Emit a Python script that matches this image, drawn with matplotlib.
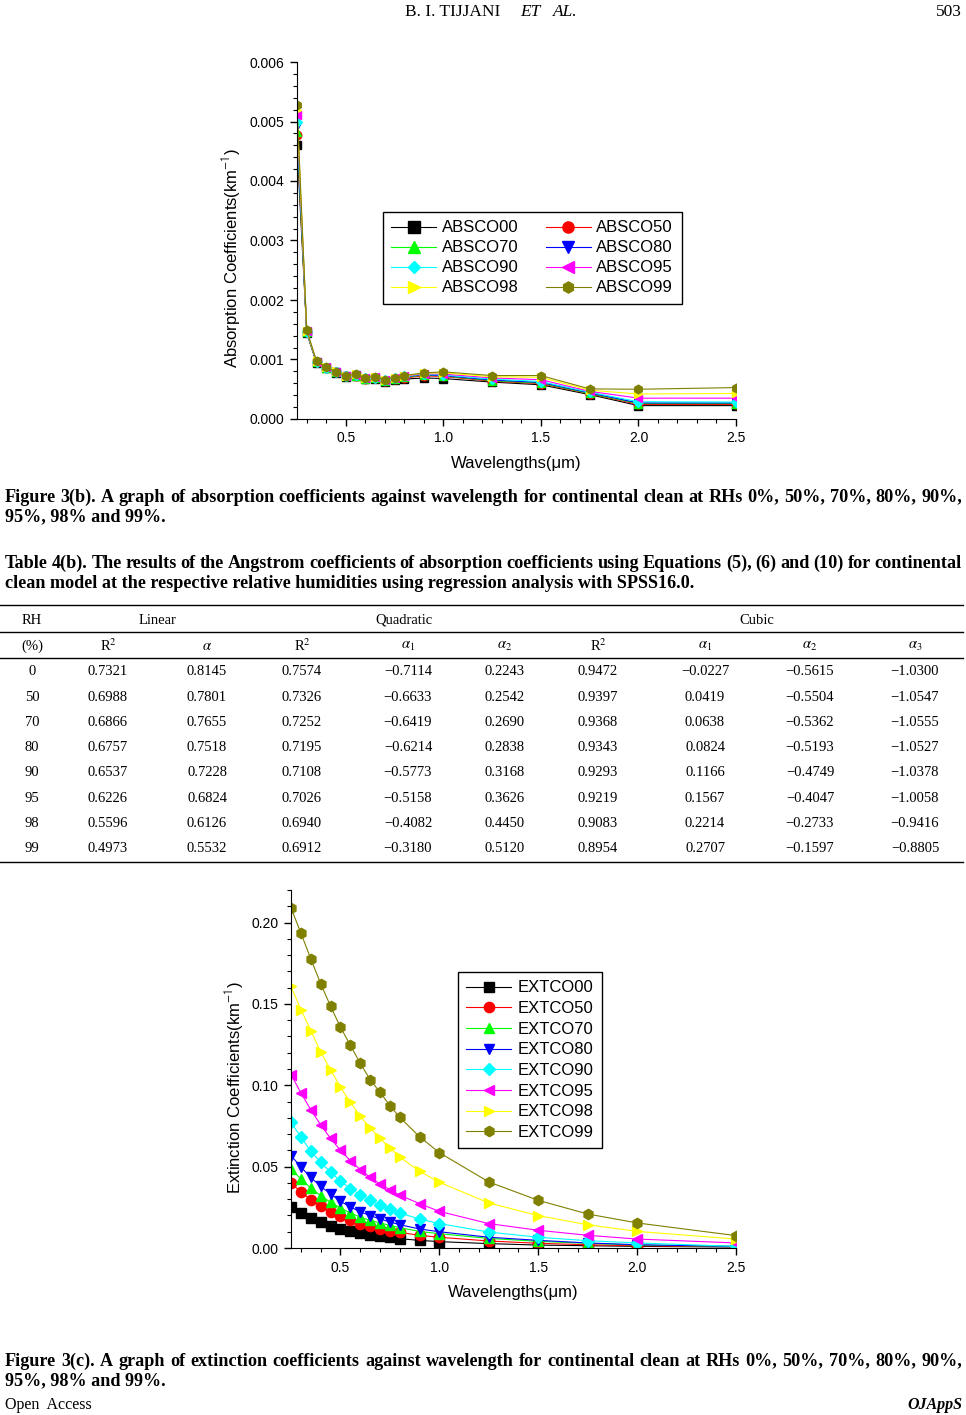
import numpy as np
import matplotlib
matplotlib.use('Agg')
import matplotlib.pyplot as plt
from matplotlib.lines import Line2D
from matplotlib.ticker import MultipleLocator, FormatStrFormatter

plt.rcParams['font.family'] = ['Liberation Sans', 'DejaVu Sans']
plt.rcParams['mathtext.fontset'] = 'stix'

W, H = 966, 1415

wavelengths = [0.25, 0.30, 0.35, 0.40, 0.45, 0.50, 0.55, 0.60, 0.65, 0.70,
               0.75, 0.80, 0.90, 1.00, 1.25, 1.50, 1.75, 2.00, 2.50]

# absorption coefficients, in 1e-3 km-1
absco00 = [4.60, 1.45, 0.940, 0.850, 0.780, 0.710, 0.720, 0.670, 0.680, 0.630, 0.650, 0.670, 0.690, 0.680, 0.620, 0.575, 0.410, 0.225, 0.225]
absco50 = [4.78, 1.46, 0.950, 0.860, 0.785, 0.715, 0.730, 0.675, 0.685, 0.640, 0.665, 0.690, 0.725, 0.715, 0.635, 0.595, 0.425, 0.245, 0.245]
absco70 = [4.83, 1.46, 0.950, 0.860, 0.790, 0.720, 0.730, 0.680, 0.690, 0.645, 0.675, 0.700, 0.740, 0.725, 0.645, 0.605, 0.430, 0.260, 0.260]
absco80 = [4.92, 1.47, 0.955, 0.865, 0.790, 0.720, 0.735, 0.680, 0.690, 0.645, 0.680, 0.710, 0.745, 0.730, 0.655, 0.615, 0.440, 0.270, 0.270]
absco90 = [5.00, 1.47, 0.960, 0.865, 0.795, 0.725, 0.740, 0.685, 0.695, 0.650, 0.685, 0.715, 0.755, 0.740, 0.670, 0.630, 0.450, 0.290, 0.285]
absco95 = [5.11, 1.48, 0.965, 0.870, 0.795, 0.725, 0.745, 0.690, 0.700, 0.655, 0.690, 0.720, 0.760, 0.755, 0.690, 0.660, 0.465, 0.350, 0.350]
absco98 = [5.20, 1.485, 0.970, 0.870, 0.800, 0.730, 0.750, 0.695, 0.705, 0.660, 0.695, 0.725, 0.770, 0.775, 0.710, 0.700, 0.485, 0.420, 0.430]
absco99 = [5.27, 1.49, 0.972, 0.871, 0.798, 0.730, 0.753, 0.697, 0.708, 0.663, 0.697, 0.730, 0.775, 0.792, 0.730, 0.730, 0.506, 0.500, 0.528]

# extinction coefficients, km-1
extco00 = [0.0252, 0.0215, 0.0184, 0.0158, 0.0137, 0.0119, 0.0105, 0.0092, 0.0082, 0.0074, 0.0066, 0.0057, 0.0047, 0.0039, 0.0027, 0.0018, 0.0014, 0.0010, 0.0006]
extco50 = [0.0400, 0.0344, 0.0297, 0.0256, 0.0221, 0.0195, 0.0170, 0.0150, 0.0133, 0.0119, 0.0107, 0.0096, 0.0078, 0.0066, 0.0043, 0.0029, 0.0020, 0.0014, 0.0008]
extco70 = [0.0486, 0.0424, 0.0369, 0.0322, 0.0281, 0.0246, 0.0215, 0.0190, 0.0170, 0.0154, 0.0139, 0.0125, 0.0102, 0.0088, 0.0059, 0.0041, 0.0029, 0.0018, 0.0010]
extco80 = [0.0568, 0.0498, 0.0434, 0.0379, 0.0332, 0.0287, 0.0252, 0.0223, 0.0199, 0.0178, 0.0160, 0.0143, 0.0117, 0.0100, 0.0066, 0.0047, 0.0031, 0.0020, 0.0010]
extco90 = [0.0773, 0.0682, 0.0594, 0.0527, 0.0465, 0.0412, 0.0365, 0.0328, 0.0293, 0.0264, 0.0238, 0.0215, 0.0178, 0.0150, 0.0098, 0.0066, 0.0045, 0.0031, 0.0010]
extco95 = [0.1066, 0.0953, 0.0850, 0.0756, 0.0674, 0.0600, 0.0537, 0.0482, 0.0434, 0.0393, 0.0359, 0.0324, 0.0273, 0.0225, 0.0150, 0.0109, 0.0078, 0.0055, 0.0031]
extco98 = [0.1607, 0.1465, 0.1336, 0.1205, 0.1096, 0.0988, 0.0895, 0.0811, 0.0738, 0.0674, 0.0615, 0.0559, 0.0471, 0.0404, 0.0277, 0.0199, 0.0143, 0.0102, 0.0055]
extco99 = [0.2090, 0.1936, 0.1777, 0.1625, 0.1486, 0.1357, 0.1246, 0.1135, 0.1035, 0.0957, 0.0875, 0.0803, 0.0684, 0.0586, 0.0406, 0.0293, 0.0209, 0.0154, 0.0076]

abs_labels = ['ABSCO00', 'ABSCO50', 'ABSCO70', 'ABSCO80', 'ABSCO90', 'ABSCO95', 'ABSCO98', 'ABSCO99']
ext_labels = ['EXTCO00', 'EXTCO50', 'EXTCO70', 'EXTCO80', 'EXTCO90', 'EXTCO95', 'EXTCO98', 'EXTCO99']
colors = ['#000000', '#FF0000', '#00FF00', '#0000FF', '#00FFFF', '#FF00FF', '#FFFF00', '#808000']
markers = ['s', 'o', '^', 'v', 'D', '<', '>', 'h']

# table 4(b)
rh = [0, 50, 70, 80, 90, 95, 98, 99]
lin_r2 = [0.7321, 0.6988, 0.6866, 0.6757, 0.6537, 0.6226, 0.5596, 0.4973]
lin_a = [0.8145, 0.7801, 0.7655, 0.7518, 0.7228, 0.6824, 0.6126, 0.5532]
quad_r2 = [0.7574, 0.7326, 0.7252, 0.7195, 0.7108, 0.7026, 0.6940, 0.6912]
quad_a1 = [-0.7114, -0.6633, -0.6419, -0.6214, -0.5773, -0.5158, -0.4082, -0.3180]
quad_a2 = [0.2243, 0.2542, 0.2690, 0.2838, 0.3168, 0.3626, 0.4450, 0.5120]
cub_r2 = [0.9472, 0.9397, 0.9368, 0.9343, 0.9293, 0.9219, 0.9083, 0.8954]
cub_a1 = [-0.0227, 0.0419, 0.0638, 0.0824, 0.1166, 0.1567, 0.2214, 0.2707]
cub_a2 = [-0.5615, -0.5504, -0.5362, -0.5193, -0.4749, -0.4047, -0.2733, -0.1597]
cub_a3 = [-1.0300, -1.0547, -1.0555, -1.0527, -1.0378, -1.0058, -0.9416, -0.8805]

serif = ['Liberation Serif', 'DejaVu Serif']
sans = ['Liberation Sans', 'DejaVu Sans']

fig = plt.figure(figsize=(W / 100, H / 100), dpi=100)
renderer = fig.canvas.get_renderer()


def fx(x):
    return x / W


def fy(y):
    return 1 - y / H


def style_axes(ax, ymax, ymajor, yminor, yfmt):
    ax.set_xlim(0.25, 2.5)
    ax.set_ylim(0, ymax)
    ax.spines['top'].set_visible(False)
    ax.spines['right'].set_visible(False)
    ax.xaxis.set_major_locator(MultipleLocator(0.5))
    ax.xaxis.set_minor_locator(MultipleLocator(0.1))
    ax.yaxis.set_major_locator(MultipleLocator(ymajor))
    ax.yaxis.set_minor_locator(MultipleLocator(yminor))
    ax.xaxis.set_major_formatter(FormatStrFormatter('%.1f'))
    ax.yaxis.set_major_formatter(FormatStrFormatter(yfmt))
    ax.tick_params(which='both', direction='out', labelsize=10, pad=4)
    ax.tick_params(which='major', length=5, width=1)
    ax.tick_params(which='minor', length=3, width=0.8)


leg_kw = dict(borderaxespad=0, fancybox=False, edgecolor='black', framealpha=1,
              fontsize=12, handlelength=2.7, handletextpad=0.35, borderpad=0.5)

# ---- Figure 3(b): absorption
ax1 = fig.add_axes([fx(297), fy(419), fx(736) - fx(297), (419 - 62) / H])
abs_series = [absco00, absco50, absco70, absco80, absco90, absco95, absco98, absco99]
for vals, lab, c, m in zip(abs_series, abs_labels, colors, markers):
    ms = 5.0 if m == 'D' else 6.2
    ax1.plot(wavelengths, np.array(vals) * 1e-3, color=c, marker=m, ms=ms,
             mec=c, mfc=c, lw=0.8, label=lab)
style_axes(ax1, 0.006, 0.001, 0.0002, '%.3f')
ax1.set_xlabel('Wavelengths(\u03bcm)', fontsize=12)
ax1.set_ylabel(r'Absorption Coefficients(km$^{\mathsf{-1}}$)', fontsize=12)
ax1.yaxis.label.set_va('center')
ax1.xaxis.label.set_va('center')
ax1.yaxis.set_label_coords((232 - 297) / (736 - 297), (419 - 258) / (419 - 62))
ax1.xaxis.set_label_coords(0.5, (419 - 464) / (419 - 62))

h, l = ax1.get_legend_handles_labels()
order = [0, 2, 4, 6, 1, 3, 5, 7]
leg1 = ax1.legend([h[i] for i in order], [l[i] for i in order], ncol=2,
                  loc='upper left', bbox_to_anchor=(fx(383), fy(212)),
                  bbox_transform=fig.transFigure, columnspacing=1.6,
                  labelspacing=0.3, markerscale=1.3, **leg_kw)
leg1.get_frame().set_linewidth(1.0)

# ---- Figure 3(c): extinction
ax2 = fig.add_axes([fx(291), fy(1248), fx(736) - fx(291), (1248 - 890) / H])
ext_series = [extco00, extco50, extco70, extco80, extco90, extco95, extco98, extco99]
for vals, lab, c, m in zip(ext_series, ext_labels, colors, markers):
    ms = 6.0 if m == 'D' else 7.4
    ax2.plot(wavelengths, vals, color=c, marker=m, ms=ms,
             mec=c, mfc=c, lw=0.8, label=lab)
style_axes(ax2, 0.22, 0.05, 0.01, '%.2f')
ax2.set_xlabel('Wavelengths(\u03bcm)', fontsize=12)
ax2.set_ylabel(r'Extinction Coefficients(km$^{\mathsf{-1}}$)', fontsize=12)
ax2.yaxis.label.set_va('center')
ax2.xaxis.label.set_va('center')
ax2.yaxis.set_label_coords((235 - 291) / (736 - 291), (1248 - 1088) / (1248 - 890))
ax2.xaxis.set_label_coords(0.5, (1248 - 1293) / (1248 - 890))

leg2 = ax2.legend(loc='upper left', bbox_to_anchor=(fx(458), fy(972)),
                  bbox_transform=fig.transFigure, labelspacing=0.34, **leg_kw)
leg2.get_frame().set_linewidth(1.0)


# ---- page text
def natural_width(text, size, weight='bold'):
    t = fig.text(0, 0, text, fontsize=size, fontweight=weight, family=serif)
    w = t.get_window_extent(renderer).width
    t.remove()
    return w


def justified(text, y, size, x0=5, x1=962, weight='bold'):
    words = text.split(' ')
    objs = [fig.text(0, fy(y), w, fontsize=size, fontweight=weight,
                     family=serif, ha='left', va='center') for w in words]
    widths = [o.get_window_extent(renderer).width for o in objs]
    gap = (x1 - x0 - sum(widths)) / (len(words) - 1)
    x = x0
    for o, wd in zip(objs, widths):
        o.set_x(fx(x))
        x += wd + gap


def plain(text, x, y, size, weight='normal', style='normal', ha='left'):
    fig.text(fx(x), fy(y), text, fontsize=size, fontweight=weight,
             fontstyle=style, family=serif, ha=ha, va='center')


cap1 = ('Figure 3(b). A graph of absorption coefficients against wavelength for '
        'continental clean at RHs 0%, 50%, 70%, 80%, 90%,')
cap_size = 11 * 950 / natural_width(cap1, 11)

plain('B. I. TIJJANI', 500, 12, 12.5, ha='right')
plain('ET', 520, 12, 12.5, style='italic')
plain('AL.', 553, 12, 12.5, style='italic')
plain('503', 962, 12, 12.5, ha='right')

justified(cap1, 497, cap_size)
plain('95%, 98% and 99%.', 5, 517, cap_size, weight='bold')

justified('Table 4(b). The results of the Angstrom coefficients of absorption '
          'coefficients using Equations (5), (6) and (10) for continental', 563, cap_size)
plain('clean model at the respective relative humidities using regression '
      'analysis with SPSS16.0.', 5, 583, cap_size, weight='bold')

justified('Figure 3(c). A graph of extinction coefficients against wavelength for '
          'continental clean at RHs 0%, 50%, 70%, 80%, 90%,', 1361, cap_size)
plain('95%, 98% and 99%.', 5, 1381, cap_size, weight='bold')

plain('Open  Access', 5, 1405, 11.5)
plain('OJAppS', 962, 1405, 11.5, weight='bold', style='italic', ha='right')

# ---- table
col_x = [32, 108, 207, 302, 408, 505, 598, 705, 810, 915]
tsize = 10.5
for yy in [605, 632, 658, 862]:
    fig.add_artist(Line2D([0, fx(963)], [fy(yy), fy(yy)], transform=fig.transFigure,
                          color='black', lw=1.0))

plain('RH', col_x[0], 620, tsize, ha='center')
plain('Linear', (col_x[1] + col_x[2]) / 2, 620, tsize, ha='center')
plain('Quadratic', (col_x[3] + col_x[5]) / 2, 620, tsize, ha='center')
plain('Cubic', (col_x[6] + col_x[9]) / 2, 620, tsize, ha='center')

sub_heads = ['(%)', 'R$^2$', r'$\alpha$', 'R$^2$', r'$\alpha_1$', r'$\alpha_2$',
             'R$^2$', r'$\alpha_1$', r'$\alpha_2$', r'$\alpha_3$']
for x, s in zip(col_x, sub_heads):
    plain(s, x, 646, tsize, ha='center')

columns = [lin_r2, lin_a, quad_r2, quad_a1, quad_a2, cub_r2, cub_a1, cub_a2, cub_a3]
row_y = 672
for i, r in enumerate(rh):
    y = row_y + i * 25.2
    plain(str(r), col_x[0], y, tsize, ha='center')
    for x, col in zip(col_x[1:], columns):
        plain(('%.4f' % col[i]).replace('-', '\u2212'), x, y, tsize, ha='center')

fig.savefig('out.png', dpi=100)
